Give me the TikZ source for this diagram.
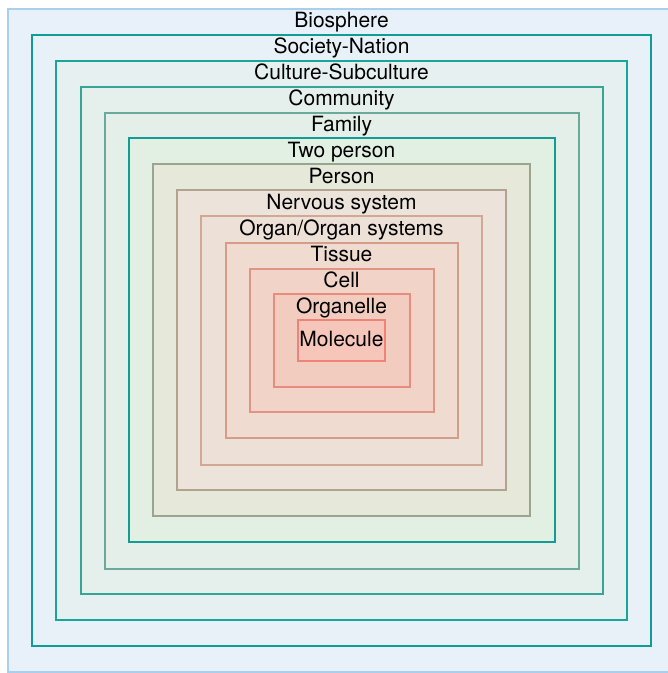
\documentclass[tikz,border=0pt]{standalone}
\usepackage{fontspec}
\setmainfont{TeX Gyre Heros}
\definecolor{f1}{HTML}{E8F1FA}\definecolor{d1}{HTML}{A9CFEE}
\definecolor{f2}{HTML}{E9F1F8}\definecolor{d2}{HTML}{0E9C95}
\definecolor{f3}{HTML}{E6F0F0}\definecolor{d3}{HTML}{17A69C}
\definecolor{f4}{HTML}{E5EFEC}\definecolor{d4}{HTML}{35A595}
\definecolor{f5}{HTML}{E3EFE8}\definecolor{d5}{HTML}{6BAA9B}
\definecolor{f6}{HTML}{E2F0E4}\definecolor{d6}{HTML}{119D93}
\definecolor{f7}{HTML}{E6E9DA}\definecolor{d7}{HTML}{9BA391}
\definecolor{f8}{HTML}{ECE4DA}\definecolor{d8}{HTML}{B0A490}
\definecolor{f9}{HTML}{EDE0D6}\definecolor{d9}{HTML}{D2A794}
\definecolor{f10}{HTML}{EFDBD0}\definecolor{d10}{HTML}{D59C89}
\definecolor{f11}{HTML}{F2D3C8}\definecolor{d11}{HTML}{E09584}
\definecolor{f12}{HTML}{F3CCC0}\definecolor{d12}{HTML}{E88D7D}
\definecolor{f13}{HTML}{F6C6BA}\definecolor{d13}{HTML}{F08378}
\begin{document}
\begin{tikzpicture}[x=1pt,y=-1pt,
  lvl/.style={line width=2.6pt},
  lbl/.style={anchor=base,inner sep=0pt,font=\fontsize{21}{24}\selectfont}]
\useasboundingbox (0,0) rectangle (668,673);
\clip (0,0) rectangle (668,673);
\draw[fill=f1,draw=d1,line width=2pt] (8,9) rectangle (680,672);
\foreach \i/\l/\t/\r/\b in {2/32/35/651/646,3/56/61/627/620,4/81/87/603/594,
  5/105/113/579/569,6/129/138/555/542,7/153/164/530/516,8/177/190/506/490,
  9/201/216/482/465,10/226/243/458/438,11/250/269/434/412,12/274/294/410/387,
  13/298/320/385/361}{
  \draw[lvl,fill=f\i,draw=d\i] (\l,\t) rectangle (\r,\b);
}
\node[lbl] (n1) at (341.5,27) {Biosphere};
\node[lbl] (n2) at (341.5,53.5) {Society-Nation};
\node[lbl] (n3) at (341.5,79.5) {Culture-Subculture};
\node[lbl] (n4) at (341.5,105.5) {Community};
\node[lbl] (n5) at (341.5,131.5) {Family};
\node[lbl] (n6) at (341.5,157) {Two person};
\node[lbl] (n7) at (341.5,183) {Person};
\node[lbl] (n8) at (341.5,209) {Nervous system};
\node[lbl] (n9) at (341.5,235) {Organ/Organ systems};
\node[lbl] (n10) at (341.5,261.5) {Tissue};
\node[lbl] (n11) at (341.5,287.5) {Cell};
\node[lbl] (n12) at (341.5,313) {Organelle};
\node[lbl] (n13) at (341.5,346.5) {Molecule};
\end{tikzpicture}
\end{document}
